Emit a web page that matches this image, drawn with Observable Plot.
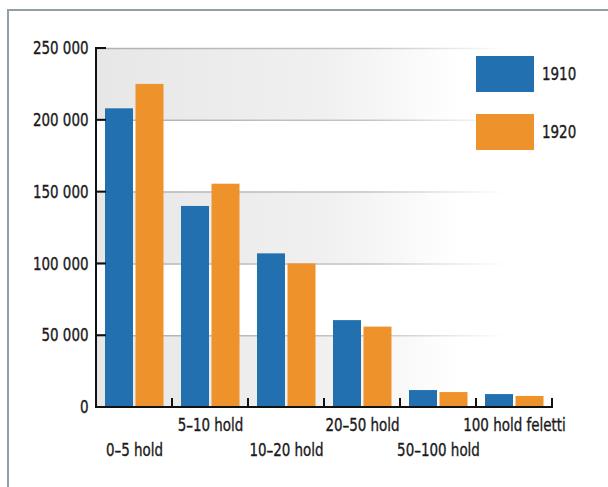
<!DOCTYPE html>
<html><head><meta charset="utf-8">
<script src="https://cdn.jsdelivr.net/npm/d3@7"></script>
<script src="https://cdn.jsdelivr.net/npm/@observablehq/plot@0.6"></script>
<style>
html,body{margin:0;padding:0;background:#fff;overflow:hidden;}
#wrap{position:relative;width:608px;height:487px;overflow:hidden;font-family:"DejaVu Sans Condensed","DejaVu Sans",sans-serif;color:#1a1a1a;}
#frame{position:absolute;left:7px;top:9px;width:700px;height:600px;border:2px solid #939fa7;}
#chart{position:absolute;left:0;top:0;}
.lg{position:absolute;left:476px;width:58px;height:36px;}
.lt{position:absolute;left:542px;font-size:18px;line-height:20px;transform:scaleX(0.83);transform-origin:left center;-webkit-text-stroke:0.35px #1a1a1a;}
</style></head><body>
<div id="wrap"><div id="frame"></div><div id="chart"></div><div id="legend"></div></div>
<script>
const categories = ["0–5 hold","5–10 hold","10–20 hold","20–50 hold","50–100 hold","100 hold feletti"];
const values1910 = [208000,140000,107000,60500,11800,9000];
const values1920 = [225000,155500,100000,56000,10400,7700];
const series = ["1910","1920"];
const seriesColors = ["#2270b0","#ee922b"];
const yTicks = [0,50000,100000,150000,200000,250000];
const shadedBands = [[0,50000],[100000,150000],[200000,250000]];

const W = 608, H = 487, ML = 96, MR = 56, MT = 48, MB = 80;
const data = categories.map((c,i) => ({cat: c, v1910: values1910[i], v1920: values1920[i], idx: i}));
const fmt = d => d3.format(",")(d).replace(/,/g, " ");
const FONT = '"DejaVu Sans Condensed","DejaVu Sans",sans-serif';

function axisLines(index, scales, values, dims) {
  const x = scales.x, y = scales.y;
  const x0 = dims.marginLeft, x1 = dims.width - dims.marginRight;
  const bw = x.bandwidth ? x.bandwidth() : (x1 - x0) / categories.length;
  const y0 = y(0), yTop = y(yTicks[yTicks.length-1]);
  const g = d3.create("svg:g").attr("stroke", "#111").attr("stroke-width", 2).attr("fill", "none");
  g.append("line").attr("x1", x0).attr("x2", x0).attr("y1", yTop - 1).attr("y2", y0 + 1);
  g.append("line").attr("x1", x0 - 1).attr("x2", x(categories[categories.length-1]) + bw + 1).attr("y1", y0).attr("y2", y0);
  for (const t of yTicks) {
    g.append("line").attr("x1", x0).attr("x2", x0 + 10).attr("y1", y(t)).attr("y2", y(t));
  }
  const bounds = categories.slice(1).map(c => x(c)).concat([x(categories[categories.length-1]) + bw]);
  for (const bx of bounds) {
    g.append("line").attr("x1", bx).attr("x2", bx).attr("y1", y0).attr("y2", y0 - 9);
  }
  return g.node();
}

const svg = Plot.plot({
  width: W, height: H,
  marginLeft: ML, marginRight: MR, marginTop: MT, marginBottom: MB,
  style: {background: "transparent", fontFamily: FONT, fontSize: "18px", color: "#1a1a1a"},
  x: {type: "band", domain: categories, padding: 0, axis: null},
  y: {domain: [0, 250000], axis: null},
  marks: [
    Plot.rectY(shadedBands, {y1: d => d[0], y2: d => d[1], fill: "url(#bandGrad)"}),
    Plot.ruleY(yTicks.slice(1), {stroke: "url(#gridGrad)", strokeWidth: 1.5}),
    Plot.barY(data, {x: "cat", y: "v1910", fill: seriesColors[0], insetLeft: 9, insetRight: 39}),
    Plot.barY(data, {x: "cat", y: "v1920", fill: seriesColors[1], insetLeft: 39.5, insetRight: 8.5}),
    axisLines,
    Plot.axisY(yTicks, {tickSize: 0, tickPadding: 8, tickFormat: fmt, fontSize: 18}),
    Plot.text(data.filter(d => d.idx % 2 === 1), {x: "cat", text: "cat", frameAnchor: "bottom", dy: 23, fontSize: 18, fill: "#1a1a1a"}),
    Plot.text(data.filter(d => d.idx % 2 === 0), {x: "cat", text: "cat", frameAnchor: "bottom", dy: 48, fontSize: 18, fill: "#1a1a1a"})
  ]
});

const defs = d3.select(svg).insert("defs", ":first-child");
const bg = defs.append("linearGradient").attr("id", "bandGrad").attr("x1", 0).attr("x2", 1).attr("y1", 0).attr("y2", 0);
bg.append("stop").attr("offset", 0).attr("stop-color", "#e7e7e7");
bg.append("stop").attr("offset", 0.5).attr("stop-color", "#f0f0f0");
bg.append("stop").attr("offset", 0.8).attr("stop-color", "#ffffff");
const gg = defs.append("linearGradient").attr("id", "gridGrad").attr("gradientUnits", "userSpaceOnUse")
  .attr("x1", ML).attr("x2", W - MR).attr("y1", 0).attr("y2", 0);
gg.append("stop").attr("offset", 0).attr("stop-color", "#b0b0b0");
gg.append("stop").attr("offset", 0.6).attr("stop-color", "#c4c4c4");
gg.append("stop").attr("offset", 0.9).attr("stop-color", "#ffffff");

document.getElementById("chart").appendChild(svg);

// condense text glyphs horizontally to mimic a narrow typeface
svg.querySelectorAll("text").forEach(t => {
  const L = t.getComputedTextLength();
  if (L > 0) {
    t.setAttribute("textLength", (L * 0.83).toFixed(1));
    t.setAttribute("lengthAdjust", "spacingAndGlyphs");
    t.setAttribute("stroke", "#1a1a1a");
    t.setAttribute("stroke-width", "0.35");
  }
});

const legend = document.getElementById("legend");
const legendTops = [56, 114];
series.forEach((s, i) => {
  const sw = document.createElement("div");
  sw.className = "lg"; sw.style.top = legendTops[i] + "px"; sw.style.background = seriesColors[i];
  legend.appendChild(sw);
  const t = document.createElement("div");
  t.className = "lt"; t.style.top = (legendTops[i] + 8) + "px"; t.textContent = s;
  legend.appendChild(t);
});
</script>
</body></html>
